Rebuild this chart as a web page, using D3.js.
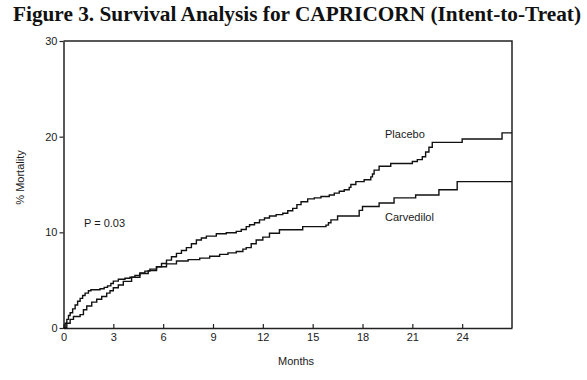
<!DOCTYPE html>
<html>
<head>
<meta charset="utf-8">
<script src="https://cdn.jsdelivr.net/npm/d3@7"></script>
<style>
	body { margin: 0; background: #fff; }
	text { font-family: Arial, 'Liberation Sans', sans-serif; fill: #1a1a1a; }
</style>
</head>
<body>
<svg id="canvas"></svg>
<script>
// step points: [month, % mortality]
let placebo = [
	[0, 0], [0.1, 0.5], [0.2, 0.9], [0.3, 1.3], [0.4, 1.6], [0.55, 2.0], [0.7, 2.4], [0.85, 2.8],
	[1.0, 3.1], [1.15, 3.4], [1.3, 3.65], [1.5, 3.9], [1.65, 4.0], [2.2, 4.1], [2.45, 4.25], [2.65, 4.4],
	[2.85, 4.65], [3.0, 4.9], [3.3, 5.1], [3.7, 5.2], [4.0, 5.3], [4.3, 5.5], [4.6, 5.75], [4.9, 5.95],
	[5.2, 6.15], [5.6, 6.4], [5.9, 6.75], [6.2, 7.1], [6.5, 7.45], [6.8, 7.8], [7.1, 8.1], [7.4, 8.4],
	[7.7, 8.8], [8.0, 9.2], [8.3, 9.4], [8.6, 9.6], [9.2, 9.85], [9.8, 9.95], [10.4, 10.1], [10.7, 10.3],
	[11.0, 10.6], [11.2, 10.8], [11.5, 11.0], [11.8, 11.3], [12.1, 11.5], [12.4, 11.7], [12.8, 11.85],
	[13.2, 12.0], [13.5, 12.25], [13.8, 12.5], [14.05, 12.9], [14.3, 13.2], [14.7, 13.5], [15.1, 13.6],
	[15.5, 13.75], [16.0, 13.9], [16.3, 14.1], [16.6, 14.3], [16.9, 14.45], [17.2, 14.7], [17.3, 15.0],
	[17.6, 15.3], [18.1, 15.5], [18.5, 15.8], [18.6, 16.1], [18.7, 16.5], [19.0, 16.9], [19.7, 17.2],
	[21.0, 17.4], [21.3, 17.6], [21.6, 17.9], [21.8, 18.4], [22.0, 18.9], [22.2, 19.4], [24.0, 19.75],
	[26.4, 20.4], [27, 20.4]
];

let carvedilol = [
	[0, 0], [0.2, 0.5], [0.4, 0.9], [0.6, 1.2], [1.0, 1.4], [1.2, 1.9], [1.4, 2.3], [1.7, 2.7],
	[2.0, 3.0], [2.3, 3.3], [2.6, 3.65], [2.8, 3.9], [3.0, 4.2], [3.3, 4.5], [3.6, 4.87], [4.1, 5.3],
	[4.6, 5.7], [5.1, 6.0], [5.6, 6.4], [6.2, 6.7], [6.8, 7.0], [7.5, 7.15], [8.2, 7.3], [8.8, 7.5],
	[9.4, 7.7], [9.9, 7.85], [10.4, 8.0], [10.8, 8.25], [11.0, 8.4], [11.3, 8.8], [11.6, 9.2],
	[12.0, 9.5], [12.4, 9.9], [13.0, 10.27], [14.4, 10.6], [15.8, 10.75], [15.95, 11.0], [16.1, 11.3],
	[16.5, 11.7], [17.8, 12.3], [18.0, 12.7], [19.0, 13.06], [19.9, 13.6], [21.2, 13.9], [22.6, 14.45],
	[23.7, 15.3], [27, 15.3]
];

let xTicks = [0, 3, 6, 9, 12, 15, 18, 21, 24];
let yTicks = [0, 10, 20, 30];

let width = 587;
let height = 380;

let canvas = d3.select('#canvas');
canvas.attr('width', width).attr('height', height);

let xScale = d3.scaleLinear().domain([0, 27]).range([63.5, 512]);
let yScale = d3.scaleLinear().domain([0, 30]).range([328, 41]);

// Title
canvas.append('text')
	.attr('x', 297)
	.attr('y', 21)
	.attr('text-anchor', 'middle')
	.style('font-family', "'Times New Roman', 'Liberation Serif', serif")
	.style('font-weight', 'bold')
	.style('font-size', '21.3px')
	.style('fill', '#111')
	.text('Figure 3. Survival Analysis for CAPRICORN (Intent-to-Treat)');

// Box top and right
canvas.append('path')
	.attr('d', `M${xScale(0)},${yScale(30)}H${xScale(27)}V${yScale(0)}`)
	.attr('fill', 'none')
	.attr('stroke', '#222')
	.attr('stroke-width', 1.5);

// Axes
let xAxis = d3.axisBottom(xScale).tickValues(xTicks).tickSizeInner(-4).tickSizeOuter(0).tickPadding(5);
let yAxis = d3.axisLeft(yScale).tickValues(yTicks).tickSizeInner(4).tickSizeOuter(0).tickPadding(2);

let gx = canvas.append('g')
	.attr('transform', `translate(0, ${yScale(0)})`)
	.call(xAxis);

let gy = canvas.append('g')
	.attr('transform', `translate(${xScale(0)}, 0)`)
	.call(yAxis);

[gx, gy].forEach(g => {
	g.select('.domain').attr('stroke', '#222').attr('stroke-width', 1.5);
	g.selectAll('.tick line').attr('stroke', '#222').attr('stroke-width', 1.2);
	g.selectAll('.tick text').style('font-size', '11px').style('fill', '#1a1a1a')
		.style('font-family', "Arial, 'Liberation Sans', sans-serif");
});

// Curves
let line = d3.line()
	.x(d => xScale(d[0]))
	.y(d => yScale(d[1]))
	.curve(d3.curveStepAfter);

[placebo, carvedilol].forEach(series => {
	canvas.append('path')
		.datum(series)
		.attr('d', line)
		.attr('fill', 'none')
		.attr('stroke', '#111')
		.attr('stroke-width', 1.4);
});

// Labels
canvas.append('text')
	.attr('x', xScale(14))
	.attr('y', 365)
	.attr('text-anchor', 'middle')
	.style('font-size', '11px')
	.text('Months');

canvas.append('text')
	.attr('transform', `translate(24, ${(yScale(0) + yScale(30)) / 2 - 7}) rotate(-90)`)
	.attr('text-anchor', 'middle')
	.style('font-size', '11px')
	.text('% Mortality');

canvas.append('text')
	.attr('x', 84)
	.attr('y', 227)
	.style('font-size', '11px')
	.text('P = 0.03');

canvas.append('text')
	.attr('x', 385)
	.attr('y', 138)
	.style('font-size', '11px')
	.text('Placebo');

canvas.append('text')
	.attr('x', 385)
	.attr('y', 221)
	.style('font-size', '11px')
	.text('Carvedilol');
</script>
</body>
</html>
